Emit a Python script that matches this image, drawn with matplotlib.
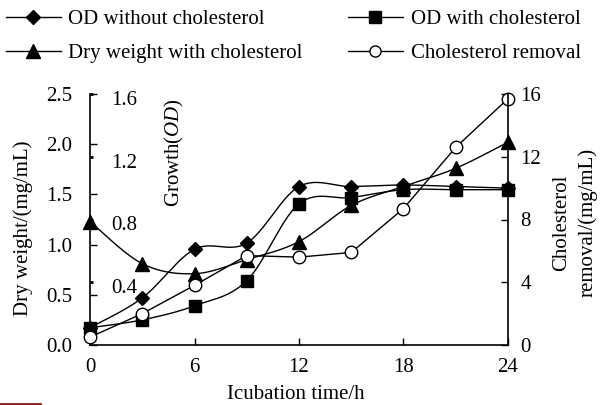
import numpy as np
import matplotlib
matplotlib.use("Agg")
import matplotlib.pyplot as plt
from matplotlib.lines import Line2D
from matplotlib.transforms import ScaledTranslation

hours = [0, 3, 6, 9, 12, 15, 18, 21, 24]
od_without = [0.11, 0.30, 0.61, 0.65, 1.01, 1.01, 1.02, 1.01, 1.00]
od_with = [0.11, 0.16, 0.25, 0.41, 0.90, 0.94, 0.99, 0.99, 0.99]
dry_weight = [1.23, 0.81, 0.71, 0.85, 1.03, 1.39, 1.58, 1.76, 2.02]
removal = [0.5, 2.0, 3.8, 5.7, 5.6, 5.9, 8.7, 12.6, 15.7]

x_ticks = [0, 6, 12, 18, 24]
dw_ticks = [0.0, 0.5, 1.0, 1.5, 2.0, 2.5]
od_ticks = [0.4, 0.8, 1.2, 1.6]
rm_ticks = [0, 4, 8, 12, 16]

plt.rcParams['font.family'] = ['Liberation Serif', 'DejaVu Serif']
plt.rcParams['mathtext.fontset'] = 'custom'
plt.rcParams['mathtext.it'] = 'Liberation Serif:italic'
plt.rcParams['mathtext.rm'] = 'Liberation Serif'
FS = 15


def smooth(x, y, n=30):
    x = np.asarray(x, float)
    y = np.asarray(y, float)
    P = np.column_stack([x, y])
    P = np.vstack([P[0], P, P[-1]])
    out = []
    for i in range(1, len(P) - 2):
        p0, p1, p2, p3 = P[i - 1], P[i], P[i + 1], P[i + 2]
        c1 = p1 + (p2 - p0) / 6.0
        c2 = p2 - (p3 - p1) / 6.0
        t = np.linspace(0, 1, n)[:, None]
        b = ((1 - t) ** 3) * p1 + 3 * ((1 - t) ** 2) * t * c1 + 3 * (1 - t) * t ** 2 * c2 + t ** 3 * p2
        out.append(b)
    arr = np.vstack(out)
    return arr[:, 0], arr[:, 1]


fig = plt.figure(figsize=(6.01, 4.05), dpi=100)
pos = [90 / 601, 1 - 345 / 405, (508 - 90) / 601, (345 - 94) / 405]
ax = fig.add_axes(pos)
ax_od = fig.add_axes(pos, sharex=ax)
ax_r = fig.add_axes(pos, sharex=ax)
for a in (ax_od, ax_r):
    a.patch.set_visible(False)

lw = 1.0
# dry weight (left)
sx, sy = smooth(hours, dry_weight)
ax.plot(sx, sy, color='black', lw=lw)
ax.plot(hours, dry_weight, ls='none', marker='^', ms=10, color='black', clip_on=False)
# OD
sx, sy = smooth(hours, od_without)
ax_od.plot(sx, sy, color='black', lw=lw)
ax_od.plot(hours, od_without, ls='none', marker='D', ms=7.5, color='black', clip_on=False)
sx, sy = smooth(hours, od_with)
ax_od.plot(sx, sy, color='black', lw=lw)
ax_od.plot(hours, od_with, ls='none', marker='s', ms=8.5, color='black', clip_on=False)
# removal (right)
ax_r.plot(hours, removal, color='black', lw=lw, marker='o', ms=9, mfc='white',
          mec='black', mew=1.0, clip_on=False)

ax.set_xlim(0, 24)
ax.set_ylim(0, 2.5)
ax_od.set_ylim(0, 1.6)
ax_r.set_ylim(0, 16)

for a in (ax, ax_od, ax_r):
    for s in a.spines.values():
        s.set_visible(False)
ax.spines['left'].set_visible(True)
ax.spines['bottom'].set_visible(True)
ax_r.spines['right'].set_visible(True)
for s in ('left', 'bottom'):
    ax.spines[s].set_linewidth(1.2)
ax_r.spines['right'].set_linewidth(1.2)

ax.set_xticks(x_ticks)
ax.set_xticklabels([str(v) for v in x_ticks])
ax.set_yticks(dw_ticks)
ax.set_yticklabels([f"{v:.1f}" for v in dw_ticks])
ax.tick_params(axis='both', direction='in', length=5, width=1.0, labelsize=FS)
ax.tick_params(axis='y', pad=13)
ax.tick_params(axis='x', pad=9)

ax_od.set_yticks(od_ticks)
ax_od.set_yticklabels([f"{v:.1f}" for v in od_ticks])
ax_od.tick_params(axis='y', direction='in', length=2, width=2, labelsize=FS, pad=-34,
                  left=True, labelleft=True, right=False, labelright=False)
ax_od.tick_params(axis='x', bottom=False, labelbottom=False)
shift = ScaledTranslation(0, -4 / 100, fig.dpi_scale_trans)
for lab in ax_od.get_yticklabels():
    lab.set_transform(lab.get_transform() + shift)

ax_r.yaxis.tick_right()
ax_r.set_yticks(rm_ticks)
ax_r.set_yticklabels([str(v) for v in rm_ticks])
ax_r.tick_params(axis='y', direction='in', length=5, width=1.0, labelsize=FS, pad=9)
ax_r.tick_params(axis='x', bottom=False, labelbottom=False)

fig.text(23 / 601, 1 - 228 / 405, 'Dry weight/(mg/mL)', rotation=90, ha='center', va='center', fontsize=FS)
fig.text(174 / 601, 1 - 153 / 405, r'Growth($OD$)', rotation=90, ha='center', va='center', fontsize=FS)
fig.text(562 / 601, 1 - 223 / 405, 'Cholesterol', rotation=90, ha='center', va='center', fontsize=FS)
fig.text(588 / 601, 1 - 222 / 405, 'removal/(mg/mL)', rotation=90, ha='center', va='center', fontsize=FS)
fig.text(296 / 601, 1 - 399 / 405, 'Icubation time/h', ha='center', va='baseline', fontsize=FS)

handles = [
    Line2D([], [], color='black', lw=lw, marker='D', ms=7.5),
    Line2D([], [], color='black', lw=lw, marker='^', ms=10),
    Line2D([], [], color='black', lw=lw, marker='s', ms=8.5),
    Line2D([], [], color='black', lw=lw, marker='o', ms=8, mfc='white'),
]
labels = ['OD without cholesterol', 'Dry weight with cholesterol',
          'OD with cholesterol', 'Cholesterol removal']
fig.legend(handles, labels, loc='upper left', bbox_to_anchor=(-0.015, 1.012), ncol=2,
           frameon=False, fontsize=FS, handlelength=2.64, handletextpad=0.38,
           columnspacing=2.16, labelspacing=0.67, borderaxespad=0.3)

fig.add_artist(Line2D([0, 40 / 601], [1 - 404 / 405, 1 - 404 / 405], color='#8b1a1a', lw=2,
                      transform=fig.transFigure))

fig.savefig('out.png', dpi=100)
